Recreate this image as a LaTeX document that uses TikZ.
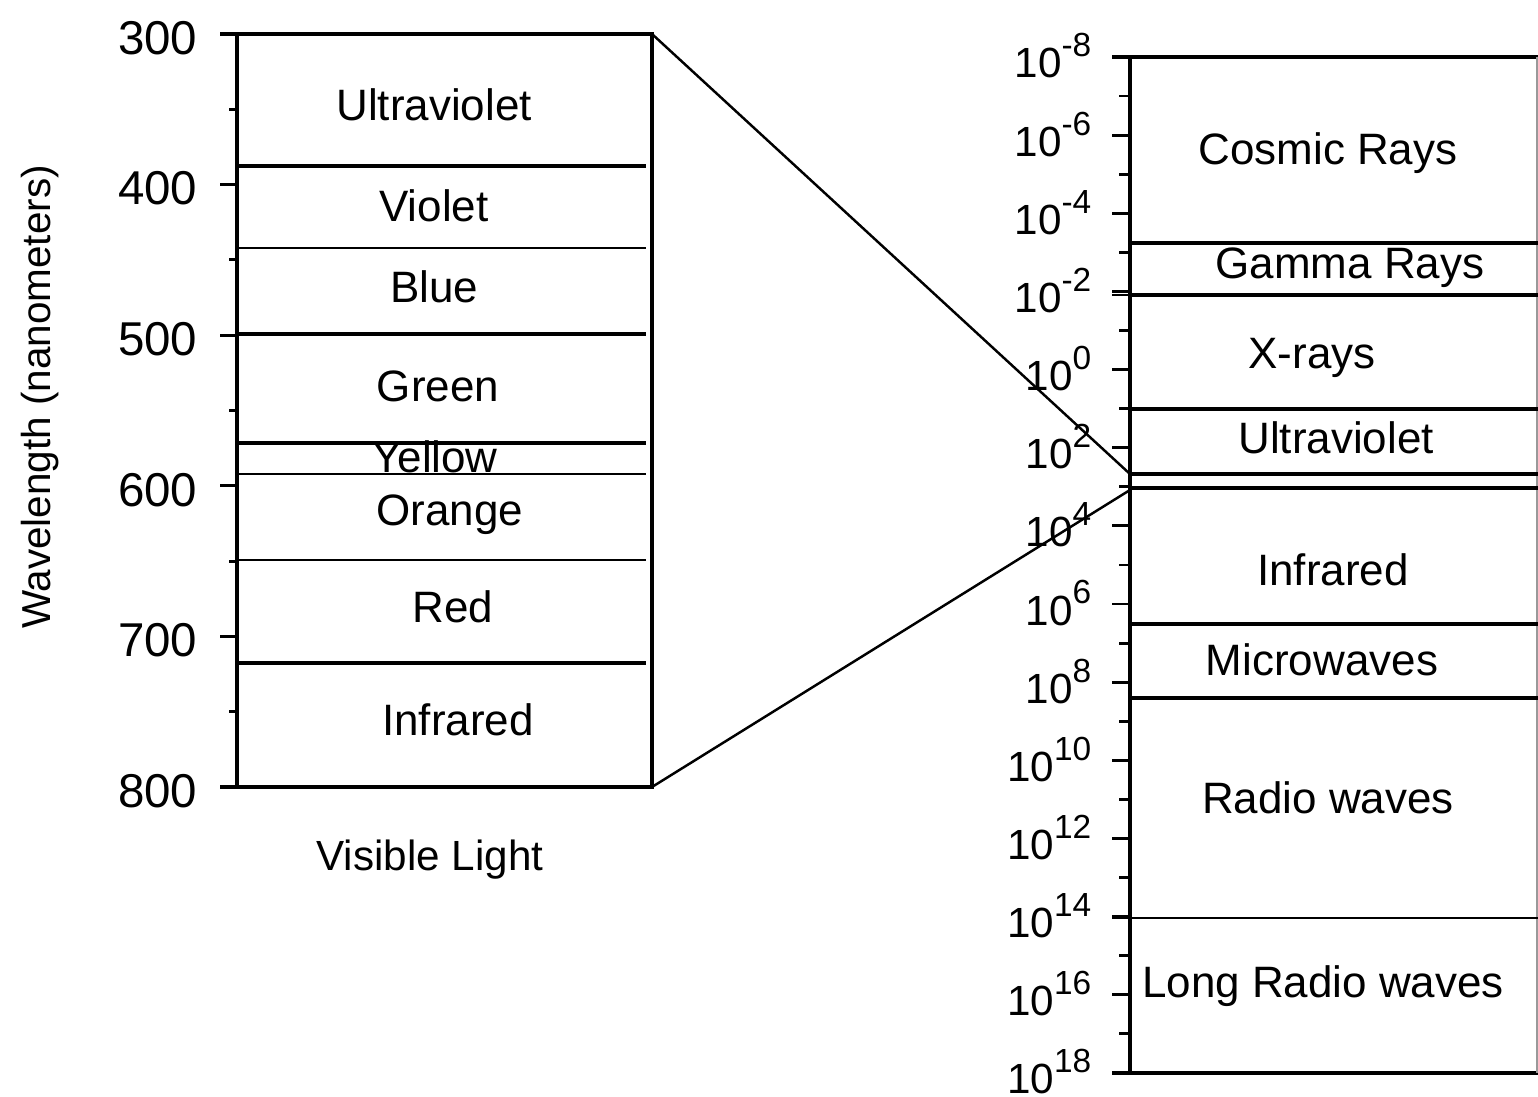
\documentclass[tikz,border=0pt]{standalone}
\usepackage{fontspec}
\setmainfont{Liberation Sans}
\newcommand\supx[1]{\raisebox{6pt}{\fontsize{9.5}{10}\selectfont #1}}
\begin{document}
\begin{tikzpicture}[x=0.01cm,y=-0.01cm,
  boxline/.style={line width=1pt},
  band/.style={line width=0.8pt},
  tick/.style={line width=0.8pt},
  conn/.style={line width=0.7pt},
  lab/.style={font=\fontsize{12.5}{15}\selectfont, inner sep=0pt},
  lnum/.style={font=\fontsize{13.5}{16}\selectfont, inner sep=0pt, anchor=east},
  rnum/.style={font=\fontsize{12}{14}\selectfont, inner sep=0pt, anchor=base east}]
\useasboundingbox (0,0) rectangle (1538,1097);

% ---------- left box (visible light) ----------
\coordinate (LTL) at (237,34);
\coordinate (LTR) at (652,34);
\coordinate (LBL) at (237,787);
\coordinate (LBR) at (652,787);
\draw[boxline] (220,34) -- (LTR) -- (LBR) -- (220,787);
\draw[boxline] (LTL) -- (LBL);
\foreach \v in {400,500,600,700} \draw[tick] (220,{34+(\v-300)*1.506}) -- (237,{34+(\v-300)*1.506});
\foreach \v in {350,450,550,650,750} \draw[tick] (229,{34+(\v-300)*1.506}) -- (237,{34+(\v-300)*1.506});
\foreach \y/\w in {166/1.1pt,248/0.7pt,334/0.9pt,443/1.1pt,474/0.8pt,560/0.8pt,663/1.1pt}
  \draw[line width=\w] (237,\y) -- (646,\y);

\foreach \v in {300,400,500,600,700,800}
  \node[lnum] (n\v) at (198,{38+(\v-300)*1.506}) {\v};

\node[lab] (lUV) at (434,105) {Ultraviolet};
\node[lab] (lVi) at (434,206) {Violet};
\node[lab] (lBl) at (434,287) {Blue};
\node[lab] (lGr) at (438,386) {Green};
\node[lab] (lYe) at (435,457) {Yellow};
\node[lab] (lOr) at (450,515) {Orange};
\node[lab] (lRe) at (453,607) {Red};
\node[lab] (lIR) at (458,720) {Infrared};
\node[lab, font=\fontsize{12}{14}\selectfont] (vis) at (430,860) {Visible Light};
\node[lab, font=\fontsize{11.5}{14}\selectfont, rotate=90] (wl) at (40,397) {Wavelength (nanometers)};

% ---------- right box (spectrum) ----------
\coordinate (RT) at (1130,57);
\coordinate (RB) at (1130,1073);
\draw[boxline] (1112,57) -- (1538,57);
\draw[boxline] (RT) -- (RB);
\draw[line width=1.4pt] (1112,1073) -- (1538,1073);
\draw[line width=0.5pt, black!40] (1537,57) -- (1537,1073);
\foreach \k in {1,...,12} \draw[tick] (1112,{57+78.15*\k}) -- (1130,{57+78.15*\k});
\foreach \k in {0,...,12} \draw[tick] (1119,{57+78.15*(\k+0.5)}) -- (1130,{57+78.15*(\k+0.5)});
\foreach \y/\w in {243/1pt,295/0.9pt,409/0.9pt,474/0.9pt,488/0.9pt,624/1pt,698/1pt,918/0.8pt}
  \draw[line width=\w] (1130,\y) -- (1538,\y);
\draw[tick] (1112,295) -- (1130,295);
\draw[tick] (1112,918) -- (1130,918);

\foreach \e [count=\i from 0] in {-8,-6,-4,-2,0,2,4,6,8,10,12,14,16,18}
  \node[rnum] (e\i) at (1092,{57+78.15*\i+21}) {10\supx{\e}};

\node[lab] (rCo) at (1328,153) {Cosmic Rays};
\node[lab] (rGa) at (1350,268) {Gamma Rays};
\node[lab] (rX)  at (1312,358) {X-rays};
\node[lab] (rUV) at (1336,438) {Ultraviolet};
\node[lab] (rIR) at (1333,570) {Infrared};
\node[lab] (rMi) at (1322,660) {Microwaves};
\node[lab] (rRa) at (1328,798) {Radio waves};
\node[lab] (rLo) at (1323,986) {Long Radio waves};

% ---------- connectors ----------
\coordinate (cUV) at (1130,474);
\coordinate (cIR) at (1130,490);
\draw[conn] (LTR) -- (cUV);
\draw[conn] (LBR) -- (cIR);
\end{tikzpicture}
\end{document}
